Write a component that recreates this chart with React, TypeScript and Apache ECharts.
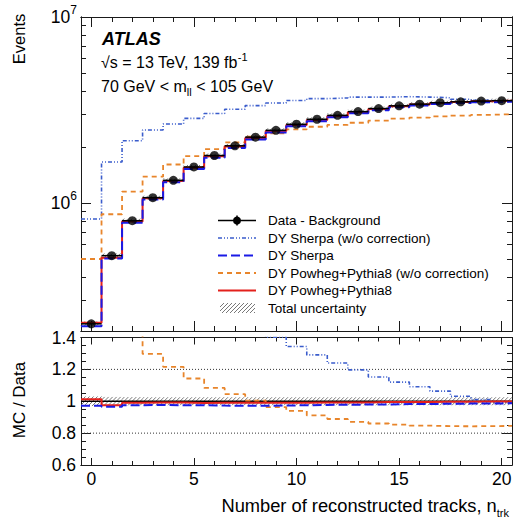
import React, { useEffect, useRef } from 'react';
import * as echarts from 'echarts';

const FONT = '"Liberation Sans", Arial, Helvetica, sans-serif';

// ---------- data ----------
const nTrk = [0, 1, 2, 3, 4, 5, 6, 7, 8, 9, 10, 11, 12, 13, 14, 15, 16, 17, 18, 19, 20];
const dataMinusBkg = [2.24e5, 5.21e5, 8.03e5, 1.068e6, 1.324e6, 1.562e6, 1.80e6, 2.03e6, 2.26e6, 2.46e6, 2.65e6, 2.82e6, 2.96e6, 3.10e6, 3.22e6, 3.33e6, 3.40e6, 3.46e6, 3.50e6, 3.53e6, 3.55e6];
const dySherpaNoCorr = [8.2e5, 1.66e6, 2.16e6, 2.47e6, 2.66e6, 2.85e6, 3.03e6, 3.19e6, 3.34e6, 3.45e6, 3.56e6, 3.64e6, 3.67e6, 3.71e6, 3.71e6, 3.73e6, 3.71e6, 3.68e6, 3.61e6, 3.565e6, 3.53e6];
const dySherpa = [2.175e5, 5.03e5, 7.83e5, 1.043e6, 1.291e6, 1.523e6, 1.751e6, 1.973e6, 2.197e6, 2.394e6, 2.584e6, 2.755e6, 2.895e6, 3.035e6, 3.156e6, 3.27e6, 3.342e6, 3.405e6, 3.448e6, 3.481e6, 3.504e6];
const dyPowhegNoCorr = [5.0e5, 8.7e5, 1.15e6, 1.385e6, 1.61e6, 1.785e6, 1.95e6, 2.12e6, 2.27e6, 2.37e6, 2.49e6, 2.57e6, 2.63e6, 2.70e6, 2.77e6, 2.84e6, 2.88e6, 2.92e6, 2.95e6, 2.98e6, 3.00e6];
const dyPowheg = [2.267e5, 5.08e5, 7.95e5, 1.059e6, 1.313e6, 1.546e6, 1.782e6, 2.01e6, 2.237e6, 2.435e6, 2.624e6, 2.797e6, 2.939e6, 3.078e6, 3.204e6, 3.313e6, 3.386e6, 3.45e6, 3.49e6, 3.523e6, 3.543e6];
const totalUncRel = [0.03, 0.027, 0.026, 0.025, 0.025, 0.025, 0.025, 0.025, 0.025, 0.025, 0.025, 0.025, 0.025, 0.025, 0.025, 0.025, 0.025, 0.025, 0.025, 0.025, 0.025];

const xMajorTicks = [0, 5, 10, 15, 20];
const xMinorTicks = [0, 1, 2, 3, 4, 5, 6, 7, 8, 9, 10, 11, 12, 13, 14, 15, 16, 17, 18, 19, 20];
const yUpperMajor = [1e6, 1e7];
const yUpperMinor = [3e5, 4e5, 5e5, 6e5, 7e5, 8e5, 9e5, 2e6, 3e6, 4e6, 5e6, 6e6, 7e6, 8e6, 9e6];
const yUpperRange = [2.05e5, 1e7];
const ratioRange = [0.6, 1.4];
const ratioRefLines = [0.8, 1.2];
const ratioUnity = 1;

const legendLabels = [
  'Data - Background',
  'DY Sherpa (w/o correction)',
  'DY Sherpa',
  'DY Powheg+Pythia8 (w/o correction)',
  'DY Powheg+Pythia8',
  'Total uncertainty',
];

// ---------- styles ----------
const C = {
  sherpaNoCorr: { color: '#3a5ccc', width: 1.6, type: [4, 2, 1, 2, 1, 2] as any },
  sherpa: { color: '#1a1ae6', width: 2, type: [9, 4] as any },
  powhegNoCorr: { color: '#e8852b', width: 1.8, type: [5, 4] as any },
  powheg: { color: '#e3211c', width: 2, type: 'solid' as any },
};
const frame = { color: '#1a1a1a', width: 1 };
const TICK_FS = 17.5;

function steps(vals: number[], f: (v: number, i: number) => number) {
  const pts: number[][] = [];
  vals.forEach((v, i) => {
    const y = f(v, i);
    pts.push([nTrk[i] - 0.5, y], [nTrk[i] + 0.5, y]);
  });
  return pts;
}

function hatchRender(params: any, api: any) {
  const x0 = api.value(0), x1 = api.value(1), y0 = api.value(2), y1 = api.value(3);
  const pa = api.coord([x0, y0]);
  const pb = api.coord([x1, y1]);
  const xl = Math.min(pa[0], pb[0]), xr = Math.max(pa[0], pb[0]);
  const yt = Math.min(pa[1], pb[1]), yb = Math.max(pa[1], pb[1]);
  const h = Math.max(yb - yt, 0.5);
  const step = 4;
  const children: any[] = [];
  for (let a = Math.floor((xl - h) / step) * step; a < xr; a += step) {
    const s0 = Math.max(0, (xl - a) / h), s1 = Math.min(1, (xr - a) / h);
    if (s1 <= s0) continue;
    children.push({
      type: 'line',
      shape: { x1: a + s0 * h, y1: yb - s0 * h, x2: a + s1 * h, y2: yb - s1 * h },
      style: { stroke: '#555', lineWidth: 0.8 },
    });
  }
  return { type: 'group', children };
}

function xAx(grid: number, position: string, ticks: number[], len: number, labels?: number[]) {
  return {
    type: 'value', gridIndex: grid, position, min: -0.5, max: 20.5,
    axisLine: { show: true, onZero: false, lineStyle: frame },
    axisTick: { show: true, inside: true, length: len, customValues: ticks, lineStyle: frame },
    axisLabel: labels
      ? { show: true, customValues: labels, fontSize: TICK_FS, color: '#000', fontFamily: FONT, margin: 5 }
      : { show: false },
    splitLine: { show: false },
  };
}

function yUpperAx(position: string, ticks: number[], len: number, withLabels: boolean) {
  return {
    type: 'value', gridIndex: 0, position,
    min: Math.log10(yUpperRange[0]), max: Math.log10(yUpperRange[1]),
    axisLine: { show: true, onZero: false, lineStyle: frame },
    axisTick: { show: true, inside: true, length: len, customValues: ticks.map(Math.log10), lineStyle: frame },
    axisLabel: withLabels
      ? {
          show: true,
          customValues: yUpperMajor.map(Math.log10),
          margin: 4,
          formatter: (v: number) => `{b|10}{s|${Math.round(v)}}`,
          rich: {
            b: { fontSize: TICK_FS, fontFamily: FONT, color: '#000', lineHeight: 26 },
            s: { fontSize: 12, fontFamily: FONT, color: '#000', verticalAlign: 'top', lineHeight: 12 },
          },
        }
      : { show: false },
    splitLine: { show: false },
  };
}

function yLowerAx(position: string, withLabels: boolean) {
  return {
    type: 'value', gridIndex: 1, position, min: ratioRange[0], max: ratioRange[1], interval: 0.2,
    axisLine: { show: true, onZero: false, lineStyle: frame },
    axisTick: { show: true, inside: true, length: 10, lineStyle: frame },
    minorTick: { show: true, splitNumber: 4, length: 5, lineStyle: frame },
    axisLabel: withLabels
      ? {
          show: true, fontSize: TICK_FS, fontFamily: FONT, color: '#000', margin: 5,
          formatter: (v: number) => String(parseFloat(v.toFixed(2))),
        }
      : { show: false },
    splitLine: { show: false },
  };
}

function lineSeries(name: string, pts: number[][], st: any, xi: number, yi: number, z = 3) {
  return {
    name, type: 'line', data: pts, xAxisIndex: xi, yAxisIndex: yi,
    symbol: 'none', showSymbol: false, silent: true, z, clip: true,
    lineStyle: { color: st.color, width: st.width, type: st.type },
  };
}

function buildLegend() {
  const x1 = 218, x2 = 256, tx = 268, y0 = 220.5, dy = 17.5;
  const els: any[] = [];
  const styles = [null, C.sherpaNoCorr, C.sherpa, C.powhegNoCorr, C.powheg, null];
  legendLabels.forEach((lab, k) => {
    const y = y0 + k * dy;
    if (k === 0) {
      els.push({ type: 'line', shape: { x1, y1: y, x2, y2: y }, style: { stroke: '#000', lineWidth: 1.5 } });
      els.push({ type: 'line', shape: { x1: 237, y1: y - 5, x2: 237, y2: y + 5 }, style: { stroke: '#000', lineWidth: 1.5 } });
      els.push({ type: 'circle', shape: { cx: 237, cy: y, r: 4 }, style: { fill: '#000' } });
    } else if (k === 5) {
      const l = 220, r = 255, t = y - 5, b = y + 5, h = b - t;
      for (let a = l - h; a < r; a += 4) {
        const s0 = Math.max(0, (l - a) / h), s1 = Math.min(1, (r - a) / h);
        if (s1 <= s0) continue;
        els.push({ type: 'line', shape: { x1: a + s0 * h, y1: b - s0 * h, x2: a + s1 * h, y2: b - s1 * h }, style: { stroke: '#555', lineWidth: 0.8 } });
      }
    } else {
      const st: any = styles[k];
      els.push({
        type: 'line', shape: { x1, y1: y, x2, y2: y },
        style: { stroke: st.color, lineWidth: st.width, lineDash: Array.isArray(st.type) ? st.type : null },
      });
    }
    els.push({
      type: 'text', x: tx, y,
      style: { text: lab, fontSize: 13.5, fontFamily: FONT, fill: '#000', align: 'left', verticalAlign: 'middle' },
    });
  });
  return els;
}

export default function App() {
  const ref = useRef<HTMLDivElement>(null);
  useEffect(() => {
    if (!ref.current) return;
    const chart = echarts.init(ref.current, undefined, { renderer: 'svg' });

    const lg = (v: number) => Math.log10(v);
    const ratio = (v: number, i: number) => v / dataMinusBkg[i];

    const upperHatch = dataMinusBkg.map((v, i) => [nTrk[i] - 0.5, nTrk[i] + 0.5, lg(v * (1 - totalUncRel[i])), lg(v * (1 + totalUncRel[i]))]);
    const lowerHatch = dataMinusBkg.map((v, i) => [nTrk[i] - 0.5, nTrk[i] + 0.5, 1 - totalUncRel[i], 1 + totalUncRel[i]]);

    const option: any = {
      animation: false,
      backgroundColor: '#fff',
      grid: [
        { left: 81, top: 17, width: 431, height: 314, outerBoundsMode: 'none' },
        { left: 81, top: 337.5, width: 431, height: 127.5, outerBoundsMode: 'none' },
      ],
      xAxis: [
        xAx(0, 'bottom', xMajorTicks, 10),
        xAx(0, 'bottom', xMinorTicks, 5),
        xAx(0, 'top', xMajorTicks, 10),
        xAx(0, 'top', xMinorTicks, 5),
        xAx(1, 'bottom', xMajorTicks, 7, xMajorTicks),
        xAx(1, 'bottom', xMinorTicks, 4),
        xAx(1, 'top', xMajorTicks, 7),
        xAx(1, 'top', xMinorTicks, 4),
      ],
      yAxis: [
        yUpperAx('left', yUpperMajor, 10, true),
        yUpperAx('left', yUpperMinor, 5, false),
        yUpperAx('right', yUpperMajor, 10, false),
        yUpperAx('right', yUpperMinor, 5, false),
        yLowerAx('left', true),
        yLowerAx('right', false),
      ],
      series: [
        // ----- upper panel -----
        {
          type: 'custom', xAxisIndex: 0, yAxisIndex: 0, data: upperHatch, renderItem: hatchRender,
          encode: { x: [0, 1], y: [2, 3] }, silent: true, z: 1,
        },
        lineSeries('DY Sherpa (w/o correction)', steps(dySherpaNoCorr, lg), C.sherpaNoCorr, 0, 0, 2),
        lineSeries('DY Powheg+Pythia8 (w/o correction)', steps(dyPowhegNoCorr, lg), C.powhegNoCorr, 0, 0, 3),
        lineSeries('DY Powheg+Pythia8', steps(dyPowheg, lg), C.powheg, 0, 0, 4),
        lineSeries('DY Sherpa', steps(dySherpa, lg), C.sherpa, 0, 0, 5),
        {
          type: 'custom', xAxisIndex: 0, yAxisIndex: 0, silent: true, z: 6,
          data: dataMinusBkg.map((v, i) => [nTrk[i], lg(v)]),
          renderItem: (p: any, api: any) => {
            const x = api.value(0), y = api.value(1);
            const a = api.coord([x - 0.5, y]), b = api.coord([x + 0.5, y]);
            return { type: 'line', shape: { x1: a[0], y1: a[1], x2: b[0], y2: b[1] }, style: { stroke: '#000', lineWidth: 1.5 } };
          },
        },
        {
          name: 'Data - Background', type: 'scatter', xAxisIndex: 0, yAxisIndex: 0, z: 7, silent: true,
          data: dataMinusBkg.map((v, i) => [nTrk[i], lg(v)]),
          symbol: 'circle', symbolSize: 9, itemStyle: { color: '#000' },
        },
        // ----- lower panel -----
        {
          type: 'custom', xAxisIndex: 4, yAxisIndex: 4, data: lowerHatch, renderItem: hatchRender,
          encode: { x: [0, 1], y: [2, 3] }, silent: true, z: 1,
        },
        ...ratioRefLines.map((r) => ({
          type: 'line', xAxisIndex: 4, yAxisIndex: 4, data: [[-0.5, r], [20.5, r]], symbol: 'none', silent: true, z: 1,
          lineStyle: { color: '#333', width: 1, type: [1, 2] },
        })),
        {
          type: 'line', xAxisIndex: 4, yAxisIndex: 4, data: [[-0.5, ratioUnity], [20.5, ratioUnity]], symbol: 'none', silent: true, z: 2,
          lineStyle: { color: '#000', width: 1.6 },
        },
        lineSeries('r Sherpa w/o', steps(dySherpaNoCorr, ratio), C.sherpaNoCorr, 4, 4, 3),
        lineSeries('r Powheg w/o', steps(dyPowhegNoCorr, ratio), C.powhegNoCorr, 4, 4, 3),
        lineSeries('r Powheg', steps(dyPowheg, ratio), C.powheg, 4, 4, 4),
        lineSeries('r Sherpa', steps(dySherpa, ratio), C.sherpa, 4, 4, 5),
      ],
      graphic: [
        {
          type: 'text', x: 19, y: 39, rotation: Math.PI / 2,
          style: { text: 'Events', fontSize: 16.5, fontFamily: FONT, fill: '#000', align: 'center', verticalAlign: 'middle' },
        },
        {
          type: 'text', x: 19, y: 400, rotation: Math.PI / 2,
          style: { text: 'MC / Data', fontSize: 17, fontFamily: FONT, fill: '#000', align: 'center', verticalAlign: 'middle' },
        },
        {
          type: 'text', x: 509, y: 505,
          style: {
            text: '{t|Number of reconstructed tracks, n}{s|trk}', align: 'right', verticalAlign: 'middle',
            rich: {
              t: { fontSize: 18.3, fontFamily: FONT, color: '#000', lineHeight: 26 },
              s: { fontSize: 11, fontFamily: FONT, color: '#000', verticalAlign: 'bottom', lineHeight: 12 },
            },
          },
        },
        {
          type: 'text', x: 102, y: 39,
          style: { text: 'ATLAS', fontSize: 18, fontWeight: 'bold', fontStyle: 'italic', fontFamily: FONT, fill: '#000', align: 'left', verticalAlign: 'middle' },
        },
        {
          type: 'text', x: 101, y: 62,
          style: {
            text: '{t|√s = 13 TeV, 139 fb}{s|-1}', align: 'left', verticalAlign: 'middle',
            rich: {
              t: { fontSize: 16, fontFamily: FONT, color: '#000', lineHeight: 22 },
              s: { fontSize: 11, fontFamily: FONT, color: '#000', verticalAlign: 'top', lineHeight: 11 },
            },
          },
        },
        {
          type: 'text', x: 101, y: 86,
          style: {
            text: '{t|70 GeV < m}{s|ll}{t| < 105 GeV}', align: 'left', verticalAlign: 'middle',
            rich: {
              t: { fontSize: 16, fontFamily: FONT, color: '#000', lineHeight: 22 },
              s: { fontSize: 11, fontFamily: FONT, color: '#000', verticalAlign: 'bottom', lineHeight: 11 },
            },
          },
        },
        ...buildLegend(),
      ],
    };
    chart.setOption(option);
    return () => chart.dispose();
  }, []);
  return <div ref={ref} style={{ position: 'fixed', left: 0, top: 0, width: 513, height: 519, background: '#fff' }} />;
}
